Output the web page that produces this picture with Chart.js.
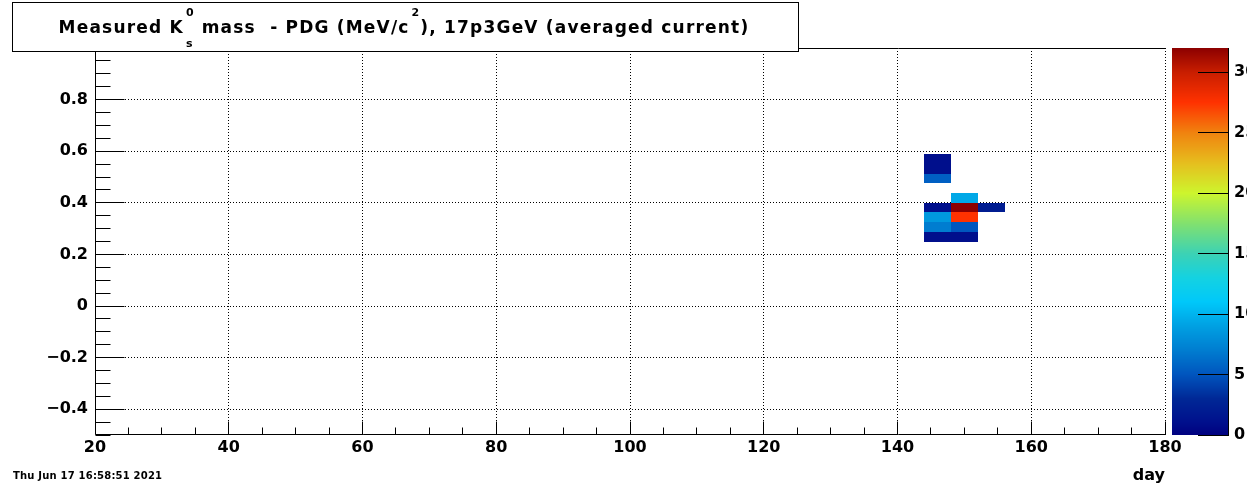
<!DOCTYPE html>
<html>
<head>
<meta charset="utf-8">
<script src="https://cdn.jsdelivr.net/npm/chart.js@4.4.1/dist/chart.umd.min.js"></script>
<style>
  html, body { margin: 0; padding: 0; background: #fff; }
  canvas { display: block; }
</style>
</head>
<body>
<canvas id="chart" width="1247" height="484"></canvas>
<script>
// filled bins: lower edge in day (4 days wide) and in mass (0.0375 wide)
const cellDay   = [144, 144, 144, 144, 144, 144, 144, 148, 148, 148, 148, 148, 152];
const cellMass  = [0.55, 0.5125, 0.475, 0.3625, 0.325, 0.2875, 0.25, 0.4, 0.3625, 0.325, 0.2875, 0.25, 0.3625];
const cellCount = [1, 1, 5.5, 1, 8.6, 7, 1, 9.4, 32, 27.5, 5.1, 1, 2];
const dayBinWidth = 4;
const massBinWidth = 0.0375;

const dayTicks   = [20, 40, 60, 80, 100, 120, 140, 160, 180];
const massTicks  = [-0.4, -0.2, 0, 0.2, 0.4, 0.6, 0.8, 1];
const countTicks = [0, 5, 10, 15, 20, 25, 30];

// rainbow palette
const paletteAt  = [0, 1, 3, 5, 7, 9, 11, 13, 15, 17.5, 20, 22.5, 25, 27.5, 30, 32];
const paletteRGB = [
  [0, 0, 128], [0, 15, 140], [0, 40, 150], [0, 85, 190], [0, 125, 208], [0, 160, 226],
  [0, 200, 250], [20, 210, 225], [60, 210, 180], [130, 225, 110], [205, 245, 45],
  [230, 190, 30], [240, 130, 15], [255, 50, 0], [200, 30, 0], [140, 0, 0]
];

function colorFor(v) {
  if (v <= paletteAt[0]) return 'rgb(' + paletteRGB[0].join(',') + ')';
  for (let i = 1; i < paletteAt.length; i++) {
    if (v <= paletteAt[i]) {
      const t = (v - paletteAt[i - 1]) / (paletteAt[i] - paletteAt[i - 1]);
      const a = paletteRGB[i - 1], b = paletteRGB[i];
      return 'rgb(' + a.map((c, k) => Math.round(c + (b[k] - c) * t)).join(',') + ')';
    }
  }
  return 'rgb(' + paletteRGB[paletteRGB.length - 1].join(',') + ')';
}

const fmtMass = v => {
  const r = Math.round(v * 10) / 10;
  const s = Number.isInteger(r) ? String(Math.abs(r)) : Math.abs(r).toFixed(1);
  return (r < 0 ? '\u2212' : '') + s;
};

const line = (ctx, x1, y1, x2, y2) => { ctx.moveTo(x1, y1); ctx.lineTo(x2, y2); };
const snap = v => Math.floor(v) + 0.5;
const noPad = s => { s.paddingTop = 0; s.paddingBottom = 0; s.paddingLeft = 0; s.paddingRight = 0; };

const rootPlugin = {
  id: 'root',
  beforeDatasetsDraw(chart) {
    const { ctx, chartArea: a, scales: { x, y } } = chart;
    ctx.save();
    // dotted grid
    ctx.strokeStyle = '#000';
    ctx.lineWidth = 1;
    ctx.setLineDash([1, 2]);
    ctx.beginPath();
    dayTicks.slice(1).forEach(d => { const px = snap(x.getPixelForValue(d)); line(ctx, px, a.top, px, a.bottom); });
    massTicks.forEach(m => { const py = snap(y.getPixelForValue(m)); line(ctx, a.left, py, a.right, py); });
    ctx.stroke();
    ctx.setLineDash([]);
    // heat map cells
    chart.data.datasets[0].data.forEach(p => {
      const x0 = Math.round(x.getPixelForValue(p.x - dayBinWidth / 2));
      const x1 = Math.round(x.getPixelForValue(p.x + dayBinWidth / 2));
      const y0 = Math.round(y.getPixelForValue(p.y + massBinWidth / 2));
      const y1 = Math.round(y.getPixelForValue(p.y - massBinWidth / 2));
      ctx.fillStyle = colorFor(p.v);
      ctx.fillRect(x0, y0, x1 - x0, y1 - y0);
    });
    ctx.restore();
  },
  afterDatasetsDraw(chart) {
    const { ctx, chartArea: a, scales: { x, y, z } } = chart;
    ctx.save();
    ctx.strokeStyle = '#000';
    ctx.lineWidth = 1;
    ctx.beginPath();
    // axes + top frame
    const ax = snap(a.left), ay = snap(a.bottom - 1), at = snap(a.top);
    line(ctx, ax, at, ax, ay);
    line(ctx, ax, ay, a.right + 1, ay);
    line(ctx, ax, at, a.right + 1, at);
    // x ticks, minor every 5
    for (let d = dayTicks[0]; d <= dayTicks[dayTicks.length - 1]; d += 5) {
      const px = snap(x.getPixelForValue(d));
      line(ctx, px, ay, px, ay - (dayTicks.includes(d) ? 13 : 7));
    }
    // y ticks, minor every 0.05
    for (let k = -10; k <= 20; k++) {
      const py = snap(y.getPixelForValue(k * 0.05));
      line(ctx, ax, py, ax + (Math.abs(k % 4) === 0 ? 29 : 15), py);
    }
    ctx.stroke();

    // colour bar
    const bx0 = 1172, bx1 = 1228;
    for (let py = Math.round(z.top); py < Math.round(z.bottom); py++) {
      ctx.fillStyle = colorFor(z.getValueForPixel(py + 0.5));
      ctx.fillRect(bx0, py, bx1 - bx0, 1);
    }
    ctx.beginPath();
    line(ctx, bx1 + 0.5, z.top, bx1 + 0.5, z.bottom);
    countTicks.forEach(c => { const py = snap(z.getPixelForValue(c)); line(ctx, bx1 - 30, py, bx1 + 1, py); });
    ctx.stroke();
    ctx.restore();
  },
  afterDraw(chart) {
    const { ctx } = chart;
    ctx.save();
    // title box
    ctx.fillStyle = '#fff';
    ctx.fillRect(12, 2, 787, 50);
    ctx.strokeStyle = '#000';
    ctx.lineWidth = 1;
    ctx.strokeRect(12.5, 2.5, 786, 49);
    const big = 'bold 17px "DejaVu Sans"', small = 'bold 11px "DejaVu Sans"';
    const parts = [
      ['Measured K', big, 0],
      ['0', small, -17, 's', 14],
      [' mass  - PDG (MeV/c', big, 0],
      ['2', small, -17],
      ['), 17p3GeV (averaged current)', big, 0]
    ];
    const spacing = p => (p[1] === small ? '0px' : '1.2px');
    const widthOf = p => {
      ctx.font = p[1];
      ctx.letterSpacing = spacing(p);
      let w = ctx.measureText(p[0]).width;
      if (p[3]) w = Math.max(w, ctx.measureText(p[3]).width);
      return p[1] === small ? w + 3 : w;
    };
    const total = parts.reduce((s, p) => s + widthOf(p), 0);
    let tx = 404 - total / 2;
    const base = 33;
    ctx.fillStyle = '#000';
    ctx.textBaseline = 'alphabetic';
    ctx.textAlign = 'left';
    parts.forEach(p => {
      const w = widthOf(p);
      const off = p[1] === small ? 2 : 0;
      ctx.fillText(p[0], tx + off, base + p[2]);
      if (p[3]) ctx.fillText(p[3], tx + off, base + p[4]);
      tx += w;
    });
    // time stamp
    ctx.letterSpacing = '0.2px';
    ctx.font = 'bold 10px "DejaVu Sans"';
    ctx.fillText('Thu Jun 17 16:58:51 2021', 13, 479);
    ctx.restore();
  }
};

Chart.defaults.font.family = '"DejaVu Sans"';
Chart.defaults.font.weight = 'bold';
Chart.defaults.font.size = 16;
Chart.defaults.color = '#000';

new Chart(document.getElementById('chart'), {
  type: 'scatter',
  data: {
    datasets: [{
      label: 'mass - PDG',
      data: cellDay.map((d, i) => ({ x: d + dayBinWidth / 2, y: cellMass[i] + massBinWidth / 2, v: cellCount[i] })),
      pointRadius: 0,
      pointHoverRadius: 0
    }]
  },
  options: {
    responsive: false,
    animation: false,
    devicePixelRatio: 1,
    layout: { padding: { top: 48, left: 0, right: 0, bottom: 0 } },
    plugins: { legend: { display: false }, tooltip: { enabled: false } },
    events: [],
    scales: {
      x: {
        type: 'linear', min: 20, max: 180,
        afterBuildTicks: s => { s.ticks = dayTicks.map(v => ({ value: v })); },
        afterFit: s => { s.height = 49; noPad(s); },
        grid: { display: false, drawTicks: false },
        border: { display: false },
        ticks: { autoSkip: false, maxRotation: 0, padding: 3, font: { size: 16, weight: 'bold' } },
        title: { display: true, text: 'day', align: 'end', font: { size: 16, weight: 'bold' }, padding: { top: 0, bottom: -1 } }
      },
      y: {
        type: 'linear', min: -0.5, max: 1.0,
        afterBuildTicks: s => { s.ticks = massTicks.map(v => ({ value: v })); },
        afterFit: s => { s.width = 95; noPad(s); },
        grid: { display: false, drawTicks: false },
        border: { display: false },
        ticks: { autoSkip: false, padding: 7, callback: v => fmtMass(v), font: { size: 16, weight: 'bold' } }
      },
      z: {
        type: 'linear', position: 'right', axis: 'y', min: 0, max: 32,
        afterBuildTicks: s => { s.ticks = countTicks.map(v => ({ value: v })); },
        afterFit: s => { s.width = 82; noPad(s); },
        grid: { display: false, drawTicks: false },
        border: { display: false },
        ticks: { autoSkip: false, padding: 69, font: { size: 16, weight: 'bold' } }
      }
    }
  },
  plugins: [rootPlugin]
});
</script>
</body>
</html>
